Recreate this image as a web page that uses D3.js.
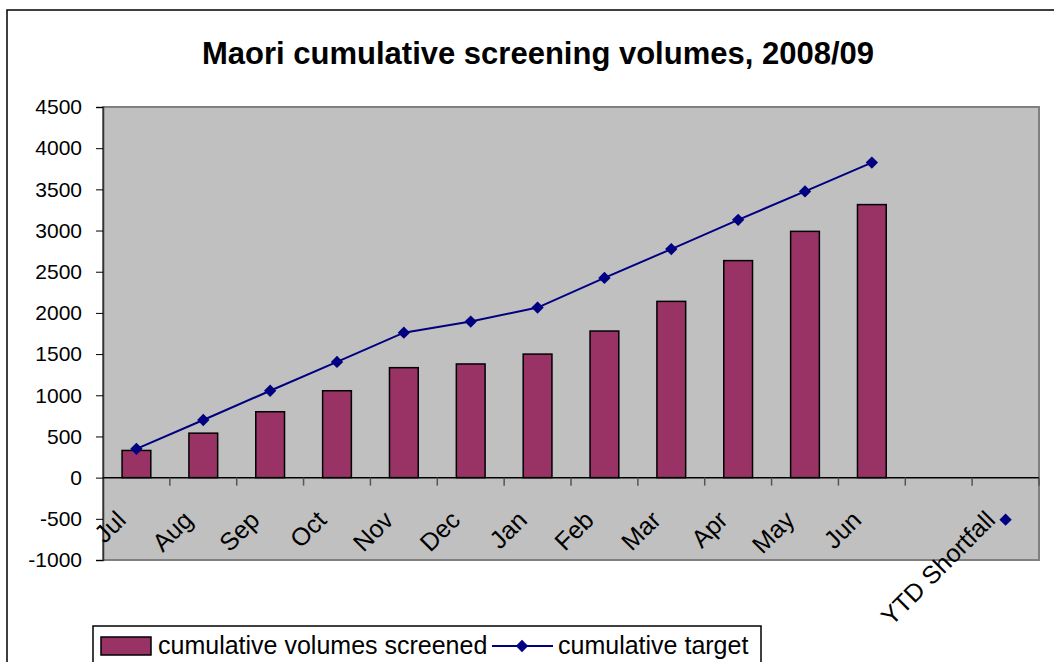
<html>
<head>
<meta charset="UTF-8">
<title>Maori cumulative screening volumes</title>
<script src="https://d3js.org/d3.v7.min.js"></script>
<style>html,body{margin:0;padding:0;background:#fff;} svg{display:block;font-family:"Liberation Sans",Arial,sans-serif;}</style>
</head>
<body>
<div id="container"></div>
<script>
const categories = ["Jul", "Aug", "Sep", "Oct", "Nov", "Dec", "Jan", "Feb", "Mar", "Apr", "May", "Jun", "", "YTD Shortfall"]
const screened = [330, 540, 800, 1055, 1335, 1380, 1500, 1780, 2140, 2635, 2990, 3315, null, null]
const target = [350, 700, 1055, 1405, 1760, 1895, 2065, 2425, 2775, 3130, 3475, 3825, null, -510]
const yTicks = [-1000, -500, 0, 500, 1000, 1500, 2000, 2500, 3000, 3500, 4000, 4500]

const width = 1054, height = 662
const plot = { left: 103, right: 1039, top: 107, bottom: 560 }

const svg = d3.select("#container").append("svg")
  .attr("width", width).attr("height", height)

// outer chart frame (runs off the right / bottom edge)
svg.append("rect").attr("x", 7).attr("y", 10).attr("width", 1100).attr("height", 700)
  .attr("fill", "#fff").attr("stroke", "#000").attr("stroke-width", 1.5)

svg.append("text").attr("x", 538).attr("y", 64).attr("text-anchor", "middle")
  .attr("font-size", 31).attr("font-weight", "bold")
  .text("Maori cumulative screening volumes, 2008/09")

const x = d3.scaleBand().domain(d3.range(categories.length)).range([plot.left, plot.right])
const y = d3.scaleLinear().domain([-1000, 4500]).range([plot.bottom, plot.top])

// plot area
svg.append("rect").attr("x", plot.left).attr("y", plot.top)
  .attr("width", plot.right - plot.left).attr("height", plot.bottom - plot.top)
  .attr("fill", "#c0c0c0").attr("stroke", "#808080").attr("stroke-width", 2)

// y axis
const yAxis = svg.append("g").attr("transform", "translate(" + plot.left + ",0)")
  .call(d3.axisLeft(y).tickValues(yTicks).tickSize(7).tickPadding(14).tickFormat(d => String(d)))
yAxis.select(".domain").attr("stroke", "#333").attr("stroke-width", 1.5)
yAxis.selectAll(".tick line").attr("stroke", "#000").attr("x2", 0).attr("x1", -7)
yAxis.selectAll(".tick text").attr("font-size", 21).attr("fill", "#000")
  .attr("font-family", "Liberation Sans, Arial, sans-serif")

// zero line + category ticks
svg.append("line").attr("x1", plot.left).attr("x2", plot.right)
  .attr("y1", y(0)).attr("y2", y(0)).attr("stroke", "#000").attr("stroke-width", 1.5)
svg.selectAll(".ctick").data(d3.range(1, categories.length + 1)).enter().append("line")
  .attr("x1", i => plot.left + i * x.step()).attr("x2", i => plot.left + i * x.step())
  .attr("y1", y(0)).attr("y2", y(0) + 8).attr("stroke", "#555").attr("stroke-width", 1.5)

// bars
const bw = x.bandwidth() * 0.43
svg.selectAll(".bar").data(screened.map((v, i) => ({ v, i })).filter(d => d.v != null))
  .enter().append("rect")
  .attr("x", d => x(d.i) + x.bandwidth() / 2 - bw / 2)
  .attr("y", d => y(d.v)).attr("width", bw).attr("height", d => y(0) - y(d.v))
  .attr("fill", "#993366").attr("stroke", "#000").attr("stroke-width", 1.5)

// target line
const cx = i => x(i) + x.bandwidth() / 2
const line = d3.line().defined(d => d.v != null).x(d => cx(d.i)).y(d => y(d.v))
const tData = target.map((v, i) => ({ v, i }))
svg.append("path").attr("d", line(tData)).attr("fill", "none")
  .attr("stroke", "#000080").attr("stroke-width", 2)
const diamond = d3.symbol().type(d3.symbolSquare).size(76)
svg.selectAll(".pt").data(tData.filter(d => d.v != null)).enter().append("path")
  .attr("d", diamond)
  .attr("transform", d => "translate(" + cx(d.i) + "," + y(d.v) + ") rotate(45)")
  .attr("fill", "#000080")

// category labels
svg.selectAll(".clabel").data(categories).enter().append("text")
  .attr("transform", (d, i) => "translate(" + (cx(i) - 9) + "," + (y(0) + 44) + ") rotate(-45)")
  .attr("text-anchor", "end")
  .attr("font-size", 25).text(d => d)

// legend
const lg = svg.append("g")
lg.append("rect").attr("x", 93).attr("y", 626).attr("width", 668).attr("height", 60)
  .attr("fill", "#fff").attr("stroke", "#000").attr("stroke-width", 1.5)
lg.append("rect").attr("x", 101).attr("y", 637).attr("width", 50).attr("height", 18)
  .attr("fill", "#993366").attr("stroke", "#000").attr("stroke-width", 1.5)
lg.append("text").attr("x", 158).attr("y", 654).attr("font-size", 25).text("cumulative volumes screened")
lg.append("line").attr("x1", 492).attr("x2", 553).attr("y1", 646).attr("y2", 646)
  .attr("stroke", "#000080").attr("stroke-width", 2)
lg.append("path").attr("d", diamond).attr("transform", "translate(522,646) rotate(45)").attr("fill", "#000080")
lg.append("text").attr("x", 558).attr("y", 654).attr("font-size", 25).text("cumulative target")
</script>
</body>
</html>
